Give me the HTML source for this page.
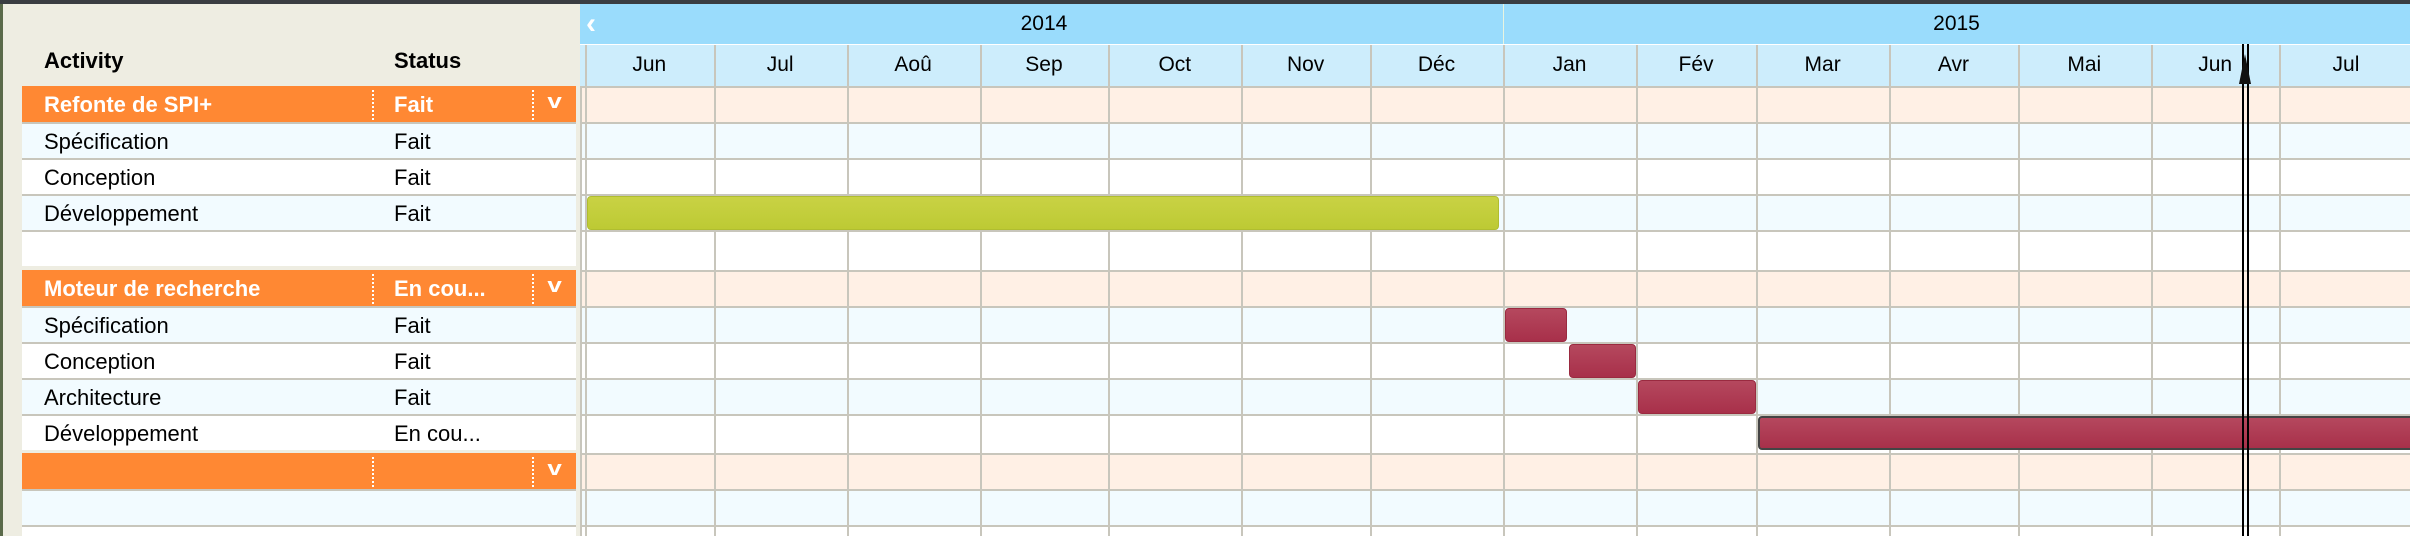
<!DOCTYPE html>
<html style="overflow:hidden;width:2410px;height:536px"><head><meta charset="utf-8">
<style>
body{margin:0;width:2410px;height:536px;overflow:hidden;background:#eeede2;font-family:"Liberation Sans",Arial,sans-serif;position:relative}
div{box-sizing:border-box}
.abs{position:absolute}
.txt{font-size:22px;color:#000;white-space:nowrap}
</style></head><body>
<div class="abs" style="left:0;top:0;width:2410px;height:4px;background:#3a3d42"></div>
<div class="abs" style="left:0;top:4px;width:3px;height:532px;background:#5a6a4a"></div>
<div id="left" class="abs" style="left:0;top:0;width:580px;height:536px;overflow:hidden"></div>
<div id="gantt" class="abs" style="left:580px;top:4px;width:1830px;height:532px;background:#fff;overflow:hidden"></div>
<script>
const groups=["Refonte de SPI+","Moteur de recherche",""];
const groupStatus=["Fait","En cou...",""];
const taskNames=[["Spécification","Conception","Développement",""],["Spécification","Conception","Architecture","Développement"],["",""]];
const taskStatus=[["Fait","Fait","Fait",""],["Fait","Fait","Fait","En cou..."],["",""]];
const months=["Jun","Jul","Aoû","Sep","Oct","Nov","Déc","Jan","Fév","Mar","Avr","Mai","Jun","Jul"];
const years=["2014","2015"];
const taskStart=[[null,null,"2014-06-01",null],["2015-01-01","2015-01-16","2015-02-01","2015-03-01"],[null,null]];
const taskEnd=[[null,null,"2014-12-31",null],["2015-01-16","2015-02-01","2015-03-01","2015-09-30"],[null,null]];
const today="2015-06-23";

const ORIGIN=Date.UTC(2015,0,1), PXDAY=4.29, X0=1503;
function xOf(d){const t=new Date(d+"T00:00:00Z").getTime();return X0+(t-ORIGIN)/86400000*PXDAY;}
function mk(parent,css,name,inter){const e=document.createElement('div');e.className='abs';e.style.cssText=css;


parent.appendChild(e);return e;}
const L=document.getElementById('left'),G=document.getElementById('gantt');
const gx=x=>x-580;
const gw=x=>Math.min(x,2410)-580;
let h=mk(L,'left:44px;top:48px;font-weight:bold','activity-header',true);h.className+=' txt';h.textContent='Activity';
h=mk(L,'left:394px;top:48px;font-weight:bold','status-header',true);h.className+=' txt';h.textContent='Status';
mk(G,'left:0;top:0;width:1830px;height:40px;background:#9adcfc','year-row',false);
let a=mk(G,'left:6px;top:3px;color:#fff;font-size:30px;font-weight:bold','scroll-left-arrow',true);a.textContent='‹';
mk(G,'left:'+gx(X0)+'px;top:0;width:1px;height:40px;background:#e8f4e0','year-divider',false);
years.forEach((y,i)=>{const s=i==0?xOf("2014-06-01"):X0,e=i==0?X0:2410;
const t=mk(G,'left:'+gx(s)+'px;width:'+(e-s)+'px;top:8px;text-align:center;font-size:21px','year-label-'+y,false);t.textContent=y;});
mk(G,'left:0;top:41px;width:1830px;height:41px;background:#cdedfc','month-row',false);
const rows=[];let y=86;
groups.forEach((g,gi)=>{rows.push({y:y,type:'g',gi:gi});y+=36;
taskNames[gi].forEach((t,ti)=>{rows.push({y:y,type:'t',gi:gi,ti:ti,alt:ti%2==0});y+=36;});y+=(gi<2?3.5:0);});
rows.forEach(r=>{
 const rh=Math.min(36,536-r.y);
 const bg=r.type=='g'?'#fff0e5':(r.alt?'#f2fbff':'#fff');
 mk(G,'left:0;top:'+(r.y-4)+'px;width:1830px;height:'+rh+'px;background:'+bg+';border-top:2px solid #c8c6bc','gantt-row',false);
 const lbg=r.type=='g'?'#ff8833':bg;
 const row=mk(L,'left:22px;top:'+r.y+'px;width:554px;height:'+rh+'px;overflow:hidden;background:'+lbg+';border-top:2px solid '+(r.type=='g'?'#ff8833':'#c8c6bc'),r.type=='g'?'group-row':'task-row',true);
 if(r.type=='g'){
  const n=mk(row,'left:22px;top:4px;color:#fff;font-weight:bold;font-size:22px','group-name',true);n.textContent=groups[r.gi];
  const s=mk(row,'left:372px;top:4px;color:#fff;font-weight:bold;font-size:22px','group-status',true);s.textContent=groupStatus[r.gi];
  mk(row,'left:350px;top:2px;width:0;height:30px;border-left:2px dotted #fff','col-divider',false);
  mk(row,'left:510px;top:2px;width:0;height:30px;border-left:2px dotted #fff','col-divider',false);
  const c=mk(row,'left:527px;top:3px;color:#fff;font-size:20px;font-weight:bold;transform:scaleX(1.3)','expand-chevron',true);c.textContent='v';
 }else if(rh>=30){
  const n=mk(row,'left:22px;top:5px;font-size:22px','task-name',true);n.textContent=taskNames[r.gi][r.ti];
  const s=mk(row,'left:372px;top:5px;font-size:22px','task-status',true);s.textContent=taskStatus[r.gi][r.ti];
 }
});
months.forEach((m,i)=>{const d=new Date(Date.UTC(2014,5+i,1)),e=new Date(Date.UTC(2014,6+i,1));
 const s=xOf(d.toISOString().slice(0,10));
 mk(G,'left:'+gx(s)+'px;top:41px;width:2px;height:491px;background:#c8c6bc','month-gridline',false);
 const t=mk(G,'left:'+gx(s)+'px;width:'+(xOf(e.toISOString().slice(0,10))-s)+'px;top:49px;text-align:center;font-size:21px;overflow:hidden','month-label-'+m,false);t.textContent=m;});
mk(G,'left:0;top:82px;width:2px;height:450px;background:#c8c6bc','left-border',false);
rows.forEach(r=>{if(r.type!='t')return;const s=taskStart[r.gi][r.ti];if(!s)return;
 const x1=xOf(s),x2=xOf(taskEnd[r.gi][r.ti]);
 const green=r.gi==0;
 const over=x2>2410;
 const css='left:'+(gx(x1)+2)+'px;top:'+(r.y-2)+'px;width:'+(gw(x2)-gx(x1)-2+(over?12:0))+'px;height:34px;border-radius:4px;'+
 (green?'background:linear-gradient(#c9d244,#bdca34);border:1px solid #b0bd30':'background:linear-gradient(#b5485e,#a8304a);border:'+(r.ti==3?'2px solid #444':'1px solid #9a2a40'));
 mk(G,css,'task-bar',true);});
const tx=gx(xOf(today));
mk(G,'left:'+(tx-3)+'px;top:40px;width:7px;height:492px;border-left:2px solid #000;border-right:2px solid #000','today-line',false);
mk(G,'left:'+(tx-6)+'px;top:50px;width:0;height:0;border-left:6px solid transparent;border-right:6px solid transparent;border-bottom:30px solid #111','today-marker',true);
</script>
</body></html>
